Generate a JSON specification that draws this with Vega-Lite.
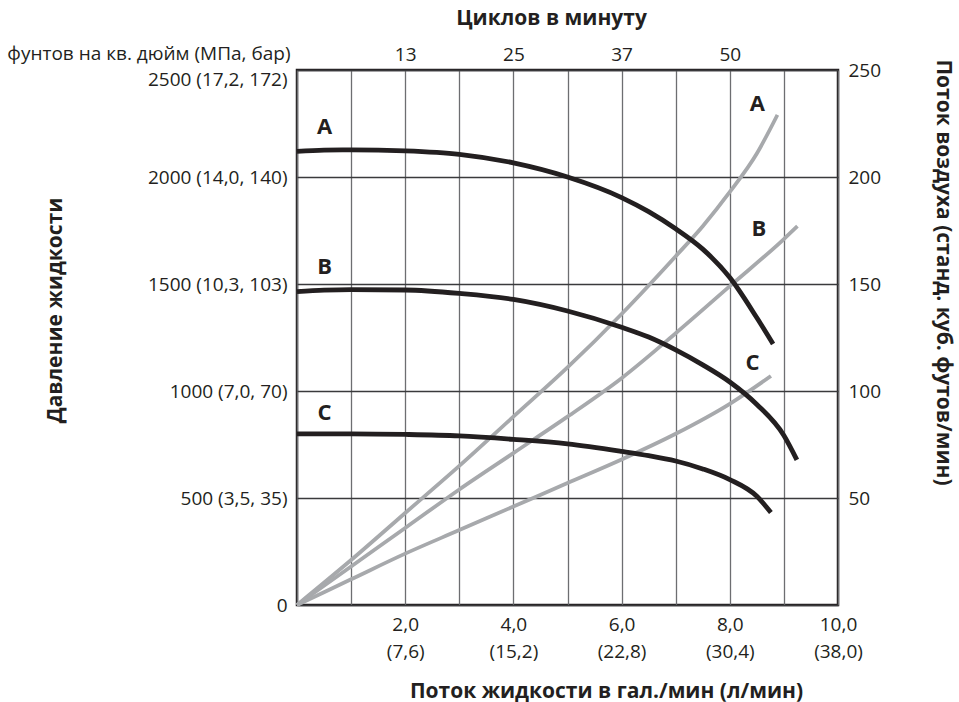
{
  "$schema": "https://vega.github.io/schema/vega-lite/v6.json",
  "width": 541,
  "height": 535,
  "autosize": "none",
  "padding": {"left": 297, "top": 70, "right": 121, "bottom": 97},
  "background": "white",
  "config": {
    "font": "Open Sans",
    "view": {"stroke": "#231f20", "strokeWidth": 2.5},
    "axis": {
      "labelFont": "Open Sans",
      "labelFontSize": 19,
      "labelColor": "#231f20",
      "titleFont": "Open Sans",
      "titleFontSize": 21,
      "titleFontWeight": "bold",
      "titleColor": "#231f20",
      "ticks": false,
      "tickSize": 0,
      "domain": false,
      "labelFlush": false,
      "labelOverlap": false
    }
  },
  "datasets": {
    "pressure": [
      {"curve": "A", "gpm": 0, "psi": 2120}, {"curve": "A", "gpm": 0.5, "psi": 2126}, {"curve": "A", "gpm": 1, "psi": 2127},
      {"curve": "A", "gpm": 2, "psi": 2122}, {"curve": "A", "gpm": 3, "psi": 2106}, {"curve": "A", "gpm": 4, "psi": 2066},
      {"curve": "A", "gpm": 5, "psi": 2000}, {"curve": "A", "gpm": 6, "psi": 1904}, {"curve": "A", "gpm": 6.5, "psi": 1838},
      {"curve": "A", "gpm": 7, "psi": 1758}, {"curve": "A", "gpm": 7.5, "psi": 1663}, {"curve": "A", "gpm": 8, "psi": 1530},
      {"curve": "A", "gpm": 8.5, "psi": 1342}, {"curve": "A", "gpm": 8.8, "psi": 1220},
      {"curve": "B", "gpm": 0, "psi": 1464}, {"curve": "B", "gpm": 0.5, "psi": 1471}, {"curve": "B", "gpm": 1, "psi": 1474},
      {"curve": "B", "gpm": 2, "psi": 1472}, {"curve": "B", "gpm": 3, "psi": 1456}, {"curve": "B", "gpm": 4, "psi": 1428},
      {"curve": "B", "gpm": 5, "psi": 1374}, {"curve": "B", "gpm": 6, "psi": 1298}, {"curve": "B", "gpm": 6.5, "psi": 1252},
      {"curve": "B", "gpm": 7, "psi": 1192}, {"curve": "B", "gpm": 7.5, "psi": 1122}, {"curve": "B", "gpm": 8, "psi": 1042},
      {"curve": "B", "gpm": 8.5, "psi": 937}, {"curve": "B", "gpm": 9, "psi": 792}, {"curve": "B", "gpm": 9.24, "psi": 678},
      {"curve": "C", "gpm": 0, "psi": 800}, {"curve": "C", "gpm": 1, "psi": 800}, {"curve": "C", "gpm": 2, "psi": 797},
      {"curve": "C", "gpm": 3, "psi": 790}, {"curve": "C", "gpm": 4, "psi": 774}, {"curve": "C", "gpm": 5, "psi": 753},
      {"curve": "C", "gpm": 6, "psi": 718}, {"curve": "C", "gpm": 6.5, "psi": 698}, {"curve": "C", "gpm": 7, "psi": 673},
      {"curve": "C", "gpm": 7.5, "psi": 636}, {"curve": "C", "gpm": 8, "psi": 586}, {"curve": "C", "gpm": 8.5, "psi": 508},
      {"curve": "C", "gpm": 8.76, "psi": 432}
    ],
    "air": [
      {"curve": "A", "gpm": 0, "cfm": 0}, {"curve": "A", "gpm": 1, "cfm": 21}, {"curve": "A", "gpm": 2, "cfm": 43},
      {"curve": "A", "gpm": 3, "cfm": 65}, {"curve": "A", "gpm": 4, "cfm": 88}, {"curve": "A", "gpm": 5, "cfm": 111},
      {"curve": "A", "gpm": 6, "cfm": 136}, {"curve": "A", "gpm": 7, "cfm": 163}, {"curve": "A", "gpm": 7.5, "cfm": 177},
      {"curve": "A", "gpm": 8, "cfm": 193}, {"curve": "A", "gpm": 8.5, "cfm": 211}, {"curve": "A", "gpm": 8.88, "cfm": 229},
      {"curve": "B", "gpm": 0, "cfm": 0}, {"curve": "B", "gpm": 1, "cfm": 18}, {"curve": "B", "gpm": 2, "cfm": 36},
      {"curve": "B", "gpm": 3, "cfm": 54}, {"curve": "B", "gpm": 4, "cfm": 71}, {"curve": "B", "gpm": 5, "cfm": 88},
      {"curve": "B", "gpm": 6, "cfm": 106}, {"curve": "B", "gpm": 7, "cfm": 127}, {"curve": "B", "gpm": 8, "cfm": 149},
      {"curve": "B", "gpm": 9, "cfm": 171}, {"curve": "B", "gpm": 9.25, "cfm": 177},
      {"curve": "C", "gpm": 0, "cfm": 0}, {"curve": "C", "gpm": 1, "cfm": 12}, {"curve": "C", "gpm": 2, "cfm": 24},
      {"curve": "C", "gpm": 3, "cfm": 35}, {"curve": "C", "gpm": 4, "cfm": 46}, {"curve": "C", "gpm": 5, "cfm": 57},
      {"curve": "C", "gpm": 6, "cfm": 68}, {"curve": "C", "gpm": 7, "cfm": 80}, {"curve": "C", "gpm": 8, "cfm": 94},
      {"curve": "C", "gpm": 8.76, "cfm": 107}
    ],
    "labels": [
      {"label": "A", "gpm": 0.51, "psi": 2235}, {"label": "B", "gpm": 0.51, "psi": 1581}, {"label": "C", "gpm": 0.51, "psi": 897},
      {"label": "A", "gpm": 8.51, "psi": 2341}, {"label": "B", "gpm": 8.54, "psi": 1756}, {"label": "C", "gpm": 8.42, "psi": 1129}
    ]
  },
  "layer": [
    {
      "data": {"name": "air"},
      "mark": {"type": "line", "color": "#a7a9ac", "strokeWidth": 3.8, "interpolate": "monotone", "strokeCap": "butt"},
      "encoding": {
        "detail": {"field": "curve"},
        "x": {
          "field": "gpm", "type": "quantitative",
          "scale": {"domain": [0, 10], "nice": false, "zero": false},
          "axis": {
            "orient": "top", "values": [2, 4, 6, 8], "grid": false,
            "labelExpr": "datum.value == 2 ? '13' : datum.value == 4 ? '25' : datum.value == 6 ? '37' : '50'",
            "labelPadding": 6,
            "title": "Циклов в минуту", "titleX": 254, "titleY": -52, "titleBaseline": "middle", "titleAlign": "center"
          }
        },
        "y": {
          "field": "cfm", "type": "quantitative",
          "scale": {"domain": [0, 250], "nice": false},
          "axis": {
            "orient": "right", "values": [50, 100, 150, 200, 250], "grid": false,
            "labelPadding": 10,
            "title": "Поток воздуха (станд. куб. футов/мин)", "titleAngle": 90, "titleX": 104, "titleY": 202,
            "titleBaseline": "middle", "titleAlign": "center"
          }
        }
      }
    },
    {
      "data": {"name": "pressure"},
      "mark": {"type": "line", "color": "#231f20", "strokeWidth": 4.8, "interpolate": "monotone", "strokeCap": "butt"},
      "encoding": {
        "detail": {"field": "curve"},
        "x": {
          "field": "gpm", "type": "quantitative",
          "scale": {"domain": [0, 10], "nice": false, "zero": false},
          "axis": {
            "orient": "bottom", "values": [0, 1, 2, 3, 4, 5, 6, 7, 8, 9, 10],
            "grid": true, "gridColor": "#6d6e71", "gridWidth": 1.3,
            "labelExpr": "datum.value == 2 ? ['2,0', '(7,6)'] : datum.value == 4 ? ['4,0', '(15,2)'] : datum.value == 6 ? ['6,0', '(22,8)'] : datum.value == 8 ? ['8,0', '(30,4)'] : datum.value == 10 ? ['10,0', '(38,0)'] : ''",
            "labelBaseline": "top", "labelPadding": 10, "labelLineHeight": 27,
            "title": "Поток жидкости в гал./мин (л/мин)", "titleX": 309, "titleY": 86, "titleBaseline": "middle", "titleAlign": "center"
          }
        },
        "y": {
          "field": "psi", "type": "quantitative",
          "scale": {"domain": [0, 2500], "nice": false},
          "axis": {
            "orient": "left", "values": [0, 500, 1000, 1500, 2000, 2500],
            "grid": true, "gridColor": "#3a3a3c", "gridWidth": 1.3,
            "labelExpr": "datum.value == 2500 ? '2500 (17,2, 172)' : datum.value == 2000 ? '2000 (14,0, 140)' : datum.value == 1500 ? '1500 (10,3, 103)' : datum.value == 1000 ? '1000 (7,0, 70)' : datum.value == 500 ? '500 (3,5, 35)' : '0'",
            "labelPadding": 10,
            "labelBaseline": {"condition": {"test": "datum.value == 2500", "value": "top"}, "value": "middle"},
            "title": "Давление жидкости", "titleAngle": -90, "titleX": -242, "titleY": 240,
            "titleBaseline": "middle", "titleAlign": "center"
          }
        }
      }
    },
    {
      "data": {"name": "labels"},
      "mark": {"type": "text", "font": "Open Sans", "fontWeight": "bold", "fontSize": 22, "color": "#231f20", "align": "center", "baseline": "middle"},
      "encoding": {
        "text": {"field": "label"},
        "x": {"field": "gpm", "type": "quantitative", "scale": {"domain": [0, 10], "nice": false, "zero": false}, "axis": null},
        "y": {
          "field": "psi", "type": "quantitative",
          "scale": {"domain": [0, 2500], "nice": false},
          "axis": {
            "orient": "left", "labels": false, "grid": false,
            "title": "фунтов на кв. дюйм (МПа, бар)", "titleFontWeight": "normal", "titleFontSize": 19,
            "titleAngle": 0, "titleAlign": "right", "titleBaseline": "middle", "titleX": -7, "titleY": -17
          }
        }
      }
    }
  ],
  "resolve": {"scale": {"x": "independent", "y": "independent"}, "axis": {"x": "independent", "y": "independent"}}
}
